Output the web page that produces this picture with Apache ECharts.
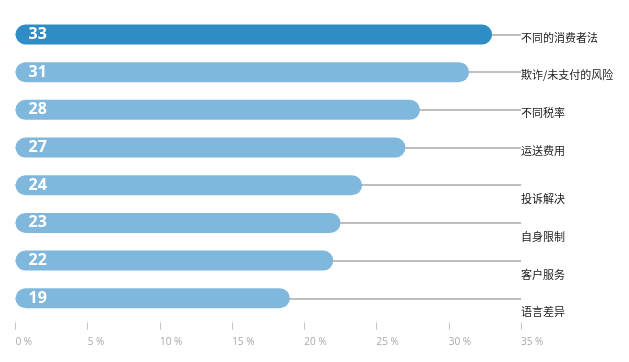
<!DOCTYPE html>
<html>
<head>
<meta charset="utf-8">
<script src="https://cdn.jsdelivr.net/npm/echarts@6/dist/echarts.min.js"></script>
<style>html,body{margin:0;padding:0;background:#fff}#c{width:629px;height:362px}</style>
</head>
<body>
<div id="c"></div>
<script>
var categories = ['不同的消费者法', '欺诈/未支付的风险', '不同税率', '运送费用', '投诉解决', '自身限制', '客户服务', '语言差异'];
var values = [33, 31.4, 28, 27, 24, 22.5, 22, 19];
var labelBelow = [false, false, false, false, true, true, true, true];
var xTicks = [0, 5, 10, 15, 20, 25, 30, 35];

var chart = echarts.init(document.getElementById('c'));
chart.setOption({
  animation: false,
  grid: { left: 15.5, right: 108, top: 34.5, bottom: 63.7, containLabel: false },
  xAxis: {
    type: 'value', min: 0, max: 35, interval: 5, offset: 24.4,
    axisLine: { show: false },
    axisTick: { show: true, length: 7, lineStyle: { color: '#c4c4c4', width: 1 } },
    splitLine: { show: false },
    axisLabel: {
      margin: 14, align: 'left', color: '#a9a9a9', fontSize: 10,
      fontFamily: 'Open Sans',
      formatter: function (v) { return v + ' %'; }
    }
  },
  yAxis: {
    type: 'category', data: categories, inverse: true, boundaryGap: false,
    position: 'right',
    axisLine: { show: false }, axisTick: { show: false },
    splitLine: { show: true, interval: 0, lineStyle: { color: '#a8a8a8', width: 1.5 } },
    axisLabel: {
      interval: 0, margin: 0, align: 'left', color: '#1a1a1a', fontSize: 11,
      fontFamily: 'Noto Sans CJK SC',
      formatter: function (v) {
        var i = categories.indexOf(v);
        return (labelBelow[i] ? '{b|' : '{a|') + v + '}';
      },
      rich: {
        a: { padding: [6, 0, 0, 0], fontSize: 11, color: '#1a1a1a', fontFamily: 'Noto Sans CJK SC' },
        b: { padding: [28, 0, 0, 0], fontSize: 11, color: '#1a1a1a', fontFamily: 'Noto Sans CJK SC' }
      }
    }
  },
  series: [{
    type: 'bar', barWidth: 20,
    data: values.map(function (v, i) {
      return { value: v, itemStyle: { color: i === 0 ? '#2f8dc5' : '#7fb8dc' } };
    }),
    itemStyle: { borderRadius: 10 },
    label: {
      show: true, position: 'insideLeft', distance: 13,
      color: '#ffffff', fontSize: 16, fontWeight: 'bold', fontFamily: 'Open Sans',
      formatter: function (p) { return Math.round(p.value); }
    }
  }]
});
</script>
</body>
</html>
